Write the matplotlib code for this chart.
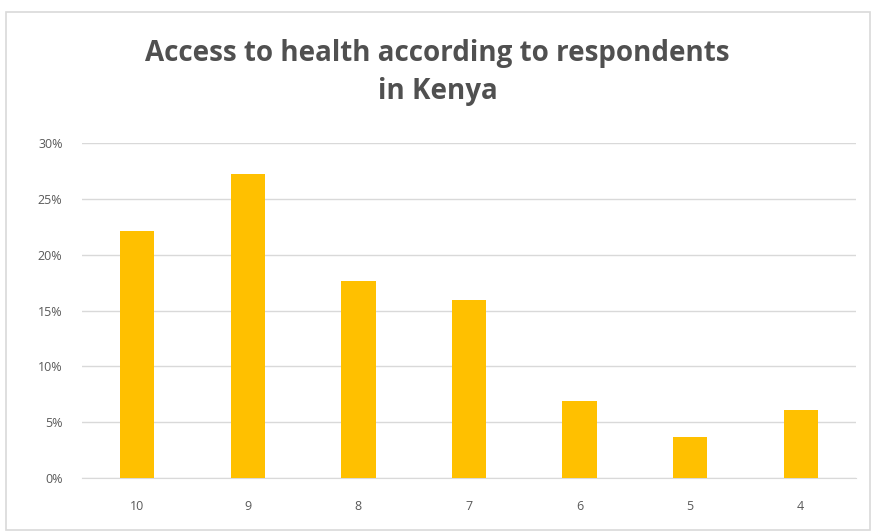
import numpy as np
import matplotlib.pyplot as plt
from matplotlib.patches import Rectangle
from matplotlib.ticker import PercentFormatter

# Share of respondents by health-access score
scores = ["10", "9", "8", "7", "6", "5", "4"]
shares = [22.1, 27.2, 17.6, 15.9, 6.9, 3.7, 6.1]
yticks = [0, 5, 10, 15, 20, 25, 30]

plt.rcParams['font.family'] = ['Open Sans', 'DejaVu Sans']

fig = plt.figure(figsize=(8.75, 5.32), dpi=100)
fig.patch.set_facecolor("white")

# light frame round the chart area
fig.patches.append(Rectangle((6 / 875, 2 / 532), 864 / 875, 518 / 532,
                             transform=fig.transFigure, fill=False,
                             edgecolor="#d9d9d9", linewidth=1.2))

ax = fig.add_axes([82 / 875, 54 / 532, 774 / 875, 335 / 532])
x = np.arange(len(scores))
ax.bar(x, shares, width=0.31, color="#ffc000", zorder=3)

ax.set_xlim(-0.5, len(scores) - 0.5)
ax.set_ylim(0, 30)
ax.set_yticks(yticks)
ax.yaxis.set_major_formatter(PercentFormatter(decimals=0))
ax.set_xticks(x)
ax.set_xticklabels(scores)

ax.grid(axis="y", color="#d9d9d9", linewidth=1, zorder=0)
for side in ["top", "right", "left"]:
    ax.spines[side].set_visible(False)
ax.spines["bottom"].set_color("#d9d9d9")
ax.tick_params(axis="both", length=0, colors="#595959", labelsize=9)
ax.tick_params(axis="y", pad=14)
ax.tick_params(axis="x", pad=16)

fig.text(0.5, 0.864, "Access to health according to respondents\nin Kenya",
         ha="center", va="center", fontsize=20, color="#505050",
         fontweight="bold", linespacing=1.42)

fig.savefig("out.png", dpi=100)
